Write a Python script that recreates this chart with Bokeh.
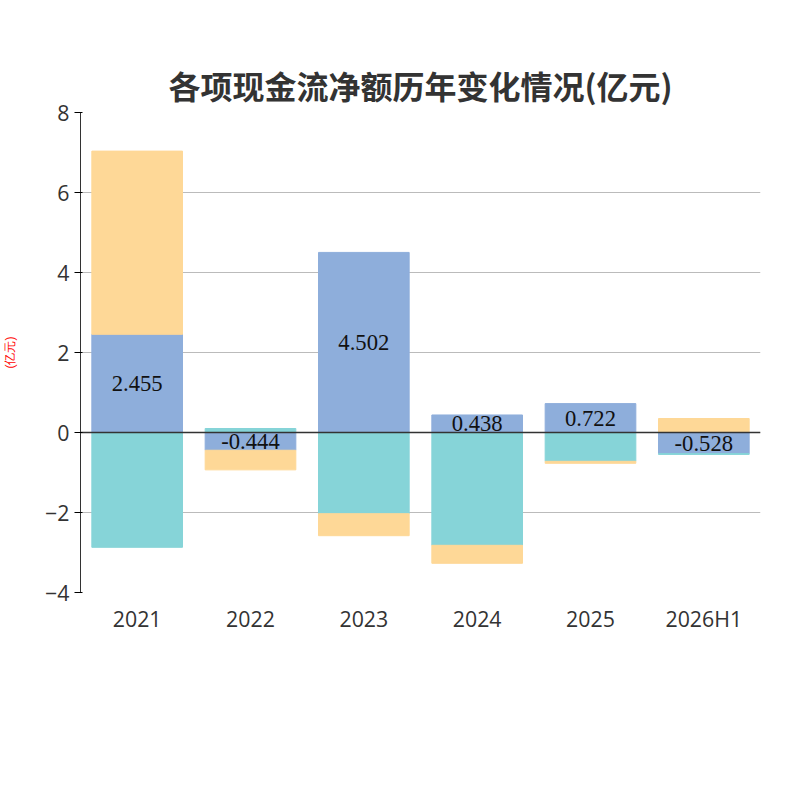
from bokeh.plotting import figure
from bokeh.models import ColumnDataSource, Legend, LegendItem, Label, Range1d, FixedTicker
from bokeh.embed import file_html
from bokeh.resources import INLINE

years = ["2021", "2022", "2023", "2024", "2025", "2026H1"]
operating = [2.455, -0.444, 4.502, 0.438, 0.722, -0.528]
investing = [-2.87, 0.10, -2.03, -2.82, -0.72, -0.02]
financing = [4.58, -0.49, -0.55, -0.45, -0.05, 0.35]
series = [operating, investing, financing]
colors = ["#8eaedb", "#86d4d8", "#fed897"]
names = ["经营活动现金流量净额", "投资活动现金流量净额", " "]

p = figure(width=784, height=784, x_range=years, y_range=Range1d(-4, 8),
           output_backend="svg", toolbar_location=None,
           min_border_left=56, min_border_right=24, min_border_top=112, min_border_bottom=192)
p.title.text = "各项现金流净额历年变化情况(亿元)"
p.title.align = "center"
p.title.text_font = "Noto Sans CJK SC"
p.title.text_font_size = "24pt"
p.title.text_color = "#333333"
p.title.text_font_style = "bold"

pos = [0.0] * len(years)
neg = [0.0] * len(years)
renderers = []
for vals, c in zip(series, colors):
    bot, top = [], []
    for i, v in enumerate(vals):
        if v >= 0:
            bot.append(pos[i]); top.append(pos[i] + v); pos[i] += v
        else:
            bot.append(neg[i]); top.append(neg[i] + v); neg[i] += v
    src = ColumnDataSource(dict(x=years, bottom=bot, top=top))
    r = p.vbar(x="x", bottom="bottom", top="top", width=0.8, color=c, source=src)
    renderers.append(r)

lab = ColumnDataSource(dict(x=years, y=[v / 2 for v in operating], t=[f"{v:.3f}" for v in operating]))
p.text(x="x", y="y", text="t", source=lab, text_align="center", text_baseline="middle",
       text_font_size="17pt", text_color="#111111", text_font="Open Sans")

p.yaxis.ticker = FixedTicker(ticks=[-4, -2, 0, 2, 4, 6, 8])
for ax in (p.xaxis, p.yaxis):
    ax.major_label_text_font_size = "16pt"
    ax.major_label_text_color = "#333333"
    ax.major_label_text_font = "Open Sans"
p.xgrid.grid_line_color = None
p.ygrid.grid_line_color = "#bbbbbb"
p.outline_line_color = None
p.xaxis.axis_line_color = None
p.xaxis.major_tick_line_color = None
p.yaxis.axis_line_color = "#333333"
p.yaxis.minor_tick_line_color = None
p.yaxis.axis_label = "(亿元)"
p.yaxis.axis_label_text_color = "red"
p.yaxis.axis_label_text_font_size = "9pt"
p.yaxis.axis_label_text_font_style = "normal"
p.yaxis.axis_label_standoff = 25
p.hspan(y=[0], line_color="#333333", line_width=1.5)

legend = Legend(items=[LegendItem(label=n, renderers=[r]) for n, r in zip(names, renderers)],
                orientation="horizontal", location=(-64, -160), label_text_font_size="16pt",
                label_text_font="Noto Sans CJK SC", label_text_color="#333333",
                glyph_width=62, glyph_height=28, spacing=18, border_line_color=None,
                background_fill_alpha=0)
p.add_layout(legend, "center")
p.add_layout(Label(x=640, y=-150, x_units="screen", y_units="screen", text="◀ 1/2 ▶",
                   text_font_size="16pt", text_color="#333333", text_font="Open Sans"))
p.add_layout(Label(x=336, y=-195, x_units="screen", y_units="screen", text="制图数据来自恒生聚源数据库",
                   text_align="center", text_color="#c8a040", text_font_size="11pt",
                   text_font="Noto Sans CJK SC"))

open("out.html", "w").write(file_html(p, INLINE))
